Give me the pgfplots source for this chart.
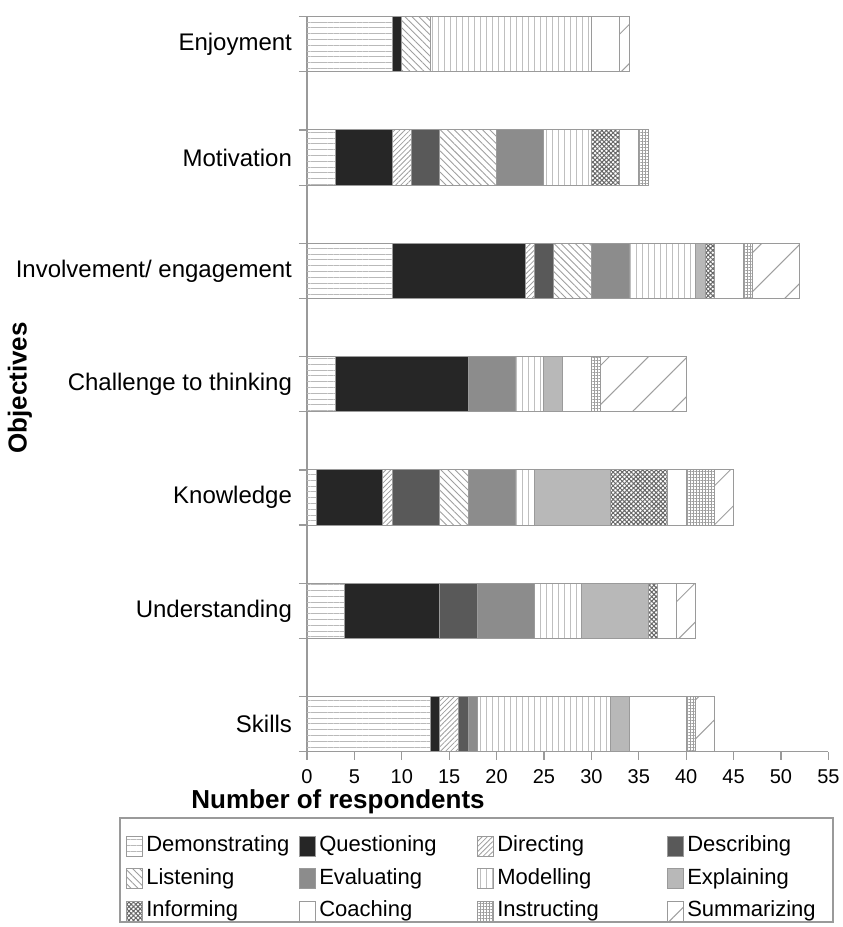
\documentclass[border=0pt]{standalone}
\usepackage{fontspec}
\setmainfont{Liberation Sans}
\usepackage{pgfplots}
\pgfplotsset{compat=1.18}
\usepackage{pgfplotstable}
\usetikzlibrary{patterns.meta}

\definecolor{qcol}{HTML}{262626}
\definecolor{dcol}{HTML}{595959}
\definecolor{ecol}{HTML}{8C8C8C}
\definecolor{xcol}{HTML}{B8B8B8}
\definecolor{edge}{HTML}{9A9A9A}

% rows: 0 = Skills ... 6 = Enjoyment
\pgfplotstableread{
y Dem Que Dir Des Lis Eva Mod Exp Inf Coa Ins Sum
0 13  1  2  1  0  1 14  2  0  6  1  2
1  4 10  0  4  0  6  5  7  1  2  0  2
2  1  7  1  5  3  5  2  8  6  2  3  2
3  3 14  0  0  0  5  3  2  0  3  1  9
4  9 14  1  2  4  4  7  1  1  3  1  5
5  3  6  2  3  6  5  5  0  3  2  1  0
6  9  1  0  0  3  0 17  0  0  3  0  1
}\resp

\pgfplotsset{
  seg/.style={draw=edge, line width=0.5pt},
  sDem/.style={seg, pattern={Lines[angle=0,distance=2.9pt,line width=0.5pt]}, pattern color=gray!55},
  sQue/.style={seg, fill=qcol},
  sDir/.style={seg, pattern={Lines[angle=45,distance=1.8pt,line width=0.4pt]}, pattern color=gray!75},
  sDes/.style={seg, fill=dcol},
  sLis/.style={seg, pattern={Lines[angle=-45,distance=2.5pt,line width=0.45pt]}, pattern color=gray!75},
  sEva/.style={seg, fill=ecol},
  sMod/.style={seg, pattern={Lines[angle=90,distance=3pt,line width=0.45pt]}, pattern color=gray!50},
  sExp/.style={seg, fill=xcol},
  sInf/.style={seg, pattern={Hatch[angle=45,distance=1.6pt,line width=0.5pt]}, pattern color=black!60},
  sCoa/.style={seg, fill=white},
  sIns/.style={seg, pattern={Hatch[angle=0,distance=1.5pt,line width=0.3pt]}, pattern color=gray!75},
  sSum/.style={seg, pattern={Lines[angle=45,distance=13.8pt,line width=0.5pt]}, pattern color=gray!75},
}
\newcommand{\legtxt}[2]{\hspace{1.5pt}\makebox[#1][l]{#2}}

\begin{document}
\begin{tikzpicture}
\useasboundingbox (0,0) rectangle (421pt,463.5pt);
\begin{axis}[
  at={(153.5pt,87.65pt)}, anchor=south west,
  width=260.7pt, height=367.5pt, scale only axis,
  xbar stacked, bar width=0.487,
  xmin=0, xmax=55, ymin=-0.2434, ymax=6.2434,
  axis lines*=left,
  axis line style={edge, line width=0.6pt},
  tick align=outside, major tick length=4pt,
  tick style={edge, line width=0.6pt},
  xtick={0,5,...,55},
  ytick={-0.2434,0.2434,0.7566,1.2434,1.7566,2.2434,2.7566,3.2434,3.7566,4.2434,4.7566,5.2434,5.7566,6.2434},
  yticklabels={},
  extra y ticks={0,1,2,3,4,5,6},
  extra y tick labels={Skills,Understanding,Knowledge,Challenge to thinking,Involvement/ engagement,Motivation,Enjoyment},
  extra y tick style={tick style={draw=none}, yticklabel style={font=\fontsize{12}{14}\selectfont}},
  xticklabel style={font=\fontsize{10}{12}\selectfont, yshift=-1.5pt},
  /pgf/number format/assume math mode=true,
  xlabel={Number of respondents},
  xlabel style={font=\bfseries\fontsize{13}{15}\selectfont, at={(axis description cs:0.0595,-0.068)}, anchor=center},
  ylabel={Objectives},
  ylabel style={font=\bfseries\fontsize{13}{15}\selectfont, at={(axis description cs:-0.5505,0.4948)}, anchor=center},
  legend columns=4,
  legend cell align=left,
  legend style={at={(axis description cs:-0.3569,-0.1018)}, anchor=north west,
    draw=none, inner sep=2.5pt,
    font=\fontsize{11}{13}\selectfont, column sep=0pt, row sep=1.75pt,
    nodes={inner xsep=0pt, inner ysep=2pt, text height=8pt, text depth=2.5pt}},
  legend image code/.code={\draw[#1, line width=0.5pt] (0pt,-5pt) rectangle (8pt,5pt);},
]
\addplot[sDem] table[x=Dem, y=y] {\resp};
\addlegendentry{\legtxt{76.5pt}{Demonstrating}}
\addplot[sQue] table[x=Que, y=y] {\resp};
\addlegendentry{\legtxt{79pt}{Questioning}}
\addplot[sDir] table[x=Dir, y=y] {\resp};
\addlegendentry{\legtxt{85pt}{Directing}}
\addplot[sDes] table[x=Des, y=y] {\resp};
\addlegendentry{\legtxt{70pt}{Describing}}
\addplot[sLis] table[x=Lis, y=y] {\resp};
\addlegendentry{\legtxt{10pt}{Listening}}
\addplot[sEva] table[x=Eva, y=y] {\resp};
\addlegendentry{\legtxt{10pt}{Evaluating}}
\addplot[sMod] table[x=Mod, y=y] {\resp};
\addlegendentry{\legtxt{10pt}{Modelling}}
\addplot[sExp] table[x=Exp, y=y] {\resp};
\addlegendentry{\legtxt{10pt}{Explaining}}
\addplot[sInf] table[x=Inf, y=y] {\resp};
\addlegendentry{\legtxt{10pt}{Informing}}
\addplot[sCoa] table[x=Coa, y=y] {\resp};
\addlegendentry{\legtxt{10pt}{Coaching}}
\addplot[sIns] table[x=Ins, y=y] {\resp};
\addlegendentry{\legtxt{10pt}{Instructing}}
\addplot[sSum] table[x=Sum, y=y] {\resp};
\addlegendentry{\legtxt{10pt}{Summarizing}}
\end{axis}
\draw[edge, line width=0.6pt] (60pt,2.5pt) rectangle (416.5pt,54.5pt);
\end{tikzpicture}
\end{document}
